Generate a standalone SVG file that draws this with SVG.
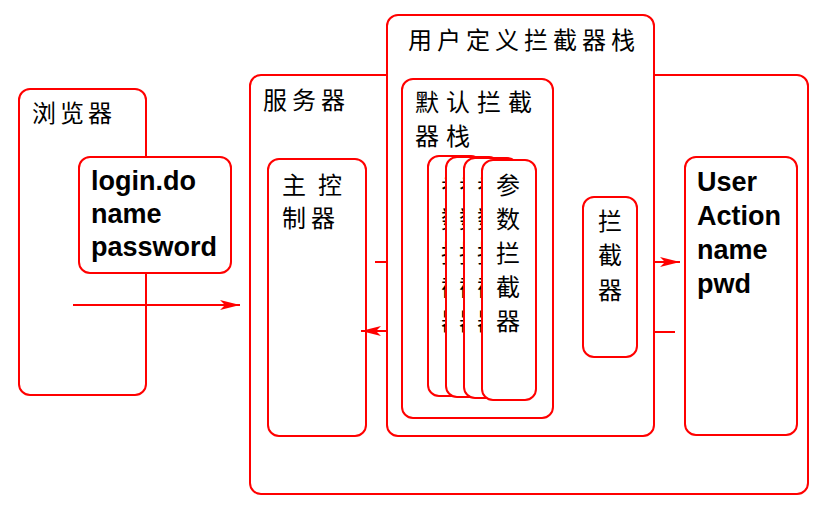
<svg xmlns="http://www.w3.org/2000/svg" width="818" height="509" viewBox="0 0 818 509">
<defs>
<marker id="ah" markerWidth="20" markerHeight="10" refX="20" refY="5" orient="auto" markerUnits="userSpaceOnUse">
<path d="M0,0 L20,5 L0,10 L5,5 z" fill="#ff0000"/>
</marker>
<clipPath id="c1"><rect x="428" y="156" width="18" height="240"/></clipPath>
<clipPath id="c2"><rect x="446" y="157" width="18" height="240"/></clipPath>
<clipPath id="c3"><rect x="464" y="158" width="18" height="240"/></clipPath>
</defs>
<style>
.box{fill:#fff;stroke:#ff0000;stroke-width:2}
.cn{font-family:"Noto Sans CJK SC","Noto Sans CJK JP",sans-serif;font-size:24px;fill:#000}
.en{font-family:"Liberation Sans",Arial,sans-serif;font-size:27px;font-weight:bold;fill:#000}
.ln{stroke:#ff0000;stroke-width:2;fill:none}
</style>
<rect width="818" height="509" fill="#fff"/>
<g id="browser">
<rect class="box" x="19" y="89" width="127" height="306" rx="11"/>
<text class="cn" x="32" y="122" style="letter-spacing:4px">浏览器</text>
</g>
<g id="request">
<rect class="box" x="79" y="157" width="152" height="116" rx="11"/>
<text class="en" x="91" y="190">login.do</text>
<text class="en" x="91" y="223">name</text>
<text class="en" x="91" y="256">password</text>
</g>
<g id="server">
<rect class="box" x="250" y="75" width="558" height="419" rx="11"/>
<text class="cn" x="263" y="109" style="letter-spacing:5px">服务器</text>
</g>
<g id="controller">
<rect class="box" x="268" y="159" width="98" height="277" rx="11"/>
<text class="cn" y="194"><tspan x="282">主</tspan><tspan x="318">控</tspan></text>
<text class="cn" x="282" y="227" style="letter-spacing:5px">制器</text>
</g>
<g id="user-stack">
<rect class="box" x="387" y="15" width="267" height="421" rx="11"/>
<text class="cn" x="408" y="49" style="letter-spacing:5px">用户定义拦截器栈</text>
</g>
<g id="default-stack">
<rect class="box" x="402" y="79" width="151" height="339" rx="11"/>
<text class="cn" x="415" y="111" style="letter-spacing:7px">默认拦截</text>
<text class="cn" x="415" y="145" style="letter-spacing:7px">器栈</text>
</g>
<g id="param-card-1">
<rect class="box" x="428" y="156" width="54" height="240" rx="11"/>
<text class="cn" text-anchor="middle" clip-path="url(#c1)"><tspan x="453" y="194">参</tspan><tspan x="453" y="228">数</tspan><tspan x="453" y="262">拦</tspan><tspan x="453" y="296">截</tspan><tspan x="453" y="330">器</tspan></text>
</g>
<g id="param-card-2">
<rect class="box" x="446" y="157" width="54" height="240" rx="11"/>
<text class="cn" text-anchor="middle" clip-path="url(#c2)"><tspan x="471" y="194">参</tspan><tspan x="471" y="228">数</tspan><tspan x="471" y="262">拦</tspan><tspan x="471" y="296">截</tspan><tspan x="471" y="330">器</tspan></text>
</g>
<g id="param-card-3">
<rect class="box" x="464" y="158" width="54" height="240" rx="11"/>
<text class="cn" text-anchor="middle" clip-path="url(#c3)"><tspan x="489" y="194">参</tspan><tspan x="489" y="228">数</tspan><tspan x="489" y="262">拦</tspan><tspan x="489" y="296">截</tspan><tspan x="489" y="330">器</tspan></text>
</g>
<g id="param-card-4">
<rect class="box" x="482" y="160" width="54" height="240" rx="11"/>
<text class="cn" text-anchor="middle"><tspan x="508" y="194">参</tspan><tspan x="508" y="228">数</tspan><tspan x="508" y="262">拦</tspan><tspan x="508" y="296">截</tspan><tspan x="508" y="330">器</tspan></text>
</g>
<g id="interceptor">
<rect class="box" x="583" y="197" width="54" height="160" rx="11"/>
<text class="cn" text-anchor="middle"><tspan x="610" y="230">拦</tspan><tspan x="610" y="264">截</tspan><tspan x="610" y="299">器</tspan></text>
</g>
<g id="user-action">
<rect class="box" x="685" y="157" width="112" height="278" rx="11"/>
<text class="en" x="697" y="191">User</text>
<text class="en" x="697" y="225">Action</text>
<text class="en" x="697" y="259">name</text>
<text class="en" x="697" y="293">pwd</text>
</g>
<g id="connectors">
<line class="ln" x1="73" y1="305" x2="240" y2="305" marker-end="url(#ah)"/>
<line class="ln" x1="375" y1="262" x2="387" y2="262"/>
<line class="ln" x1="387" y1="331" x2="361" y2="331" marker-end="url(#ah)"/>
<line class="ln" x1="654" y1="262" x2="680" y2="262" marker-end="url(#ah)"/>
<line class="ln" x1="654" y1="332" x2="675" y2="332"/>
</g>
</svg>
